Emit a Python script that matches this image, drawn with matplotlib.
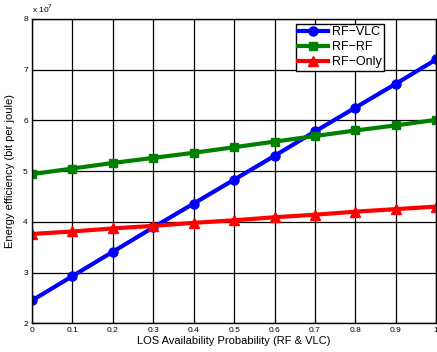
import numpy as np
import matplotlib.pyplot as plt

plt.rcParams['font.family'] = ['Liberation Sans', 'DejaVu Sans']

p = [0, 0.1, 0.2, 0.3, 0.4, 0.5, 0.6, 0.7, 0.8, 0.9, 1.0]
rf_vlc = [2.45, 2.93, 3.41, 3.89, 4.36, 4.83, 5.30, 5.78, 6.25, 6.72, 7.20]
rf_rf = [4.94, 5.05, 5.16, 5.26, 5.36, 5.47, 5.58, 5.69, 5.80, 5.90, 6.01]
rf_only = [3.76, 3.81, 3.87, 3.92, 3.98, 4.03, 4.09, 4.14, 4.20, 4.25, 4.30]

fig = plt.figure(figsize=(4.37, 3.52), dpi=100)
ax = fig.add_axes([0.0732, 0.0815, 0.925, 0.865])

ax.plot(p, rf_vlc, '-o', color='blue', lw=3, ms=6.5, label='RF\u2212VLC')
ax.plot(p, rf_rf, '-s', color='green', lw=3, ms=6, label='RF\u2212RF')
ax.plot(p, rf_only, '-^', color='red', lw=3, ms=6.5, label='RF\u2212Only')

ax.set_xlim(0, 1)
ax.set_ylim(2, 8)
ax.set_xticks(p)
ax.set_xticklabels(['0'] + [f'{v:g}' for v in p[1:-1]] + ['1'])
ax.set_yticks(range(2, 9))
ax.tick_params(direction='in', labelsize=6, length=3, pad=3)
ax.grid(True, color='black', lw=0.9, ls='-')
for s in ax.spines.values():
    s.set_linewidth(1)

ax.set_xlabel('LOS Availability Probability (RF & VLC)', fontsize=8, labelpad=1)
ax.set_ylabel('Energy efficiency (bit per joule)', fontsize=8, labelpad=6)
ax.text(0.0, 1.012, 'x 10$^{7}$', transform=ax.transAxes, fontsize=6, ha='left', va='bottom')

leg = ax.legend(loc='upper right', bbox_to_anchor=(0.872, 0.984), fontsize=9,
                frameon=True, fancybox=False, edgecolor='black', framealpha=1,
                handlelength=2.4, borderpad=0.2, labelspacing=0.25, handletextpad=0.3,
                borderaxespad=0)
leg.get_frame().set_linewidth(1)

fig.savefig('out.png', dpi=100)
